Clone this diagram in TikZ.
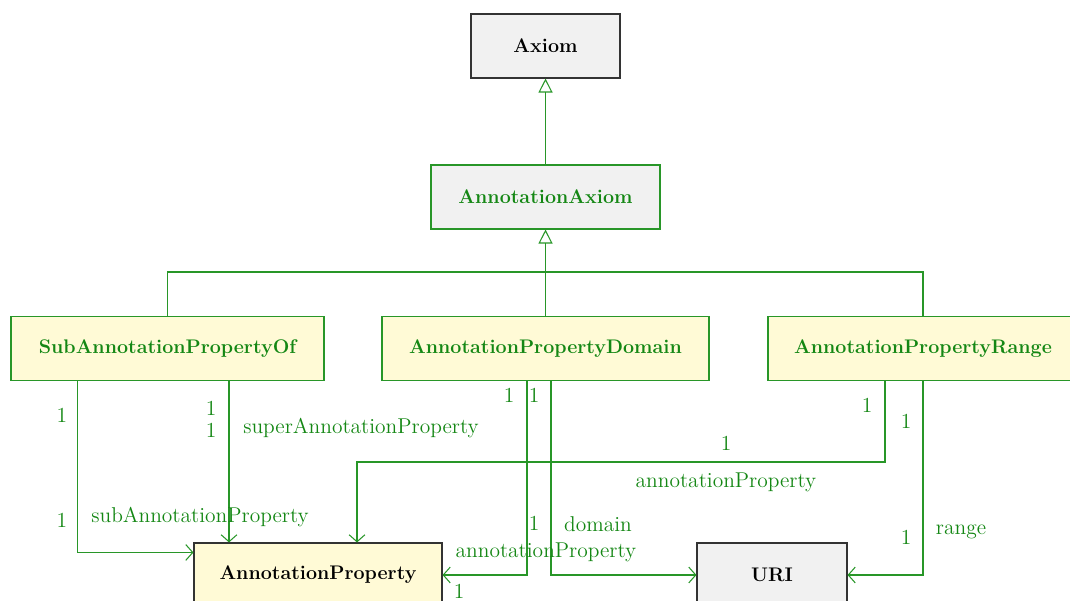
\documentclass[tikz,border=0pt]{standalone}
\usepackage{xcolor}
\usepackage{tikz}
\usetikzlibrary{positioning, calc, arrows.meta}

\definecolor{umlgreen}{RGB}{20,135,20}
\definecolor{umlline}{RGB}{40,150,40}
\definecolor{umlyellow}{RGB}{255,250,214}
\definecolor{umlgray}{RGB}{241,241,241}

\tikzset{
	cls/.style={draw, rectangle, line width=0.6pt, minimum height=1.28cm, font=\fontsize{11.2}{13}\selectfont\bfseries, inner sep=2pt},
	superbox/.style={cls, fill=umlgray, draw=black!80, text=black},
	absbox/.style={cls, fill=umlgray, draw=umlline, text=umlgreen},
	subbox/.style={cls, fill=umlyellow, draw=umlline, text=umlgreen},
	targetbox/.style={cls, fill=umlyellow, draw=black!80, text=black},
	gen/.style={draw=umlline, line width=0.6pt, -{Triangle[open, length=0.28cm, width=0.28cm]}},
	bar/.style={draw=umlline, line width=0.6pt},
	assoc/.style={draw=umlline, line width=0.6pt, -{Straight Barb[length=4pt, width=9pt]}},
	lbl/.style={text=umlgreen, font=\fontsize{12.2}{14}\selectfont, inner sep=0pt}
}

\begin{document}
\begin{tikzpicture}
			\useasboundingbox (0, 0) rectangle (21.4, 12.02);
			
			\node[superbox, minimum width=2.98cm] (axiom)   at (10.91, 11.1)  {Axiom};
			\node[absbox, minimum width=4.58cm]   (annax)   at (10.91, 8.08)  {AnnotationAxiom};
			\node[subbox, minimum width=6.26cm]   (sub)     at (3.35, 5.05)   {SubAnnotationPropertyOf};
			\node[subbox, minimum width=6.54cm]   (dom)     at (10.91, 5.05)  {AnnotationPropertyDomain};
			\node[subbox, minimum width=6.2cm]    (rng)     at (18.46, 5.05)  {AnnotationPropertyRange};
			\node[targetbox, minimum width=4.96cm] (ap)     at (6.36, 0.52)   {AnnotationProperty};
			\node[superbox, minimum width=3.0cm]  (uri)     at (15.44, 0.52)  {URI};
			
			% generalisation
			\coordinate (join) at (10.91, 6.58);
			\draw[gen] (annax) -- (axiom);
			\draw[bar] (sub.north) |- (join) -| (rng.north);
			\draw[bar] (dom.north) -- (join);
			\draw[gen] (join) -- (annax);
			
			% associations
			\coordinate (turn) at (7.14, 2.78);
			\draw[assoc] ([xshift=1.34cm]sub.south west) |- ([yshift=-0.2cm]ap.north west);
			\draw[assoc] ([xshift=1.23cm]sub.south) -- ([xshift=1.23cm]sub.south |- ap.north);
			\draw[assoc] ([xshift=-0.76cm]rng.south) |- (turn) -- (turn |- ap.north);
			\draw[assoc] ([xshift=-0.37cm]dom.south) |- (ap.east);
			\draw[assoc] ([xshift=0.11cm]dom.south) |- (uri.west);
			\draw[assoc] (rng.south) |- (uri.east);
			
			% labels
			\node[lbl] (m1)  at (1.24, 3.72)  {1};
			\node[lbl] (m2)  at (1.24, 1.62)  {1};
			\node[lbl] (r1)  at (4.0, 1.68)   {subAnnotationProperty};
			\node[lbl] (m3)  at (4.22, 3.86)  {1};
			\node[lbl] (m4)  at (4.22, 3.42)  {1};
			\node[lbl] (r2)  at (7.22, 3.46)  {superAnnotationProperty};
			\node[lbl] (m5)  at (17.34, 3.92) {1};
			\node[lbl] (m6)  at (14.52, 3.16) {1};
			\node[lbl] (r3)  at (14.52, 2.38) {annotationProperty};
			\node[lbl] (m7)  at (10.18, 4.12) {1};
			\node[lbl] (m8)  at (10.68, 4.12) {1};
			\node[lbl] (m9)  at (10.68, 1.56) {1};
			\node[lbl] (r4)  at (11.96, 1.54) {domain};
			\node[lbl] (r5)  at (10.92, 0.98) {annotationProperty};
			\node[lbl] (m10) at (9.18, 0.2)   {1};
			\node[lbl] (m11) at (18.12, 3.6)  {1};
			\node[lbl] (m12) at (18.12, 1.28) {1};
			\node[lbl] (r6)  at (19.22, 1.38) {range};
		\end{tikzpicture}
\end{document}
